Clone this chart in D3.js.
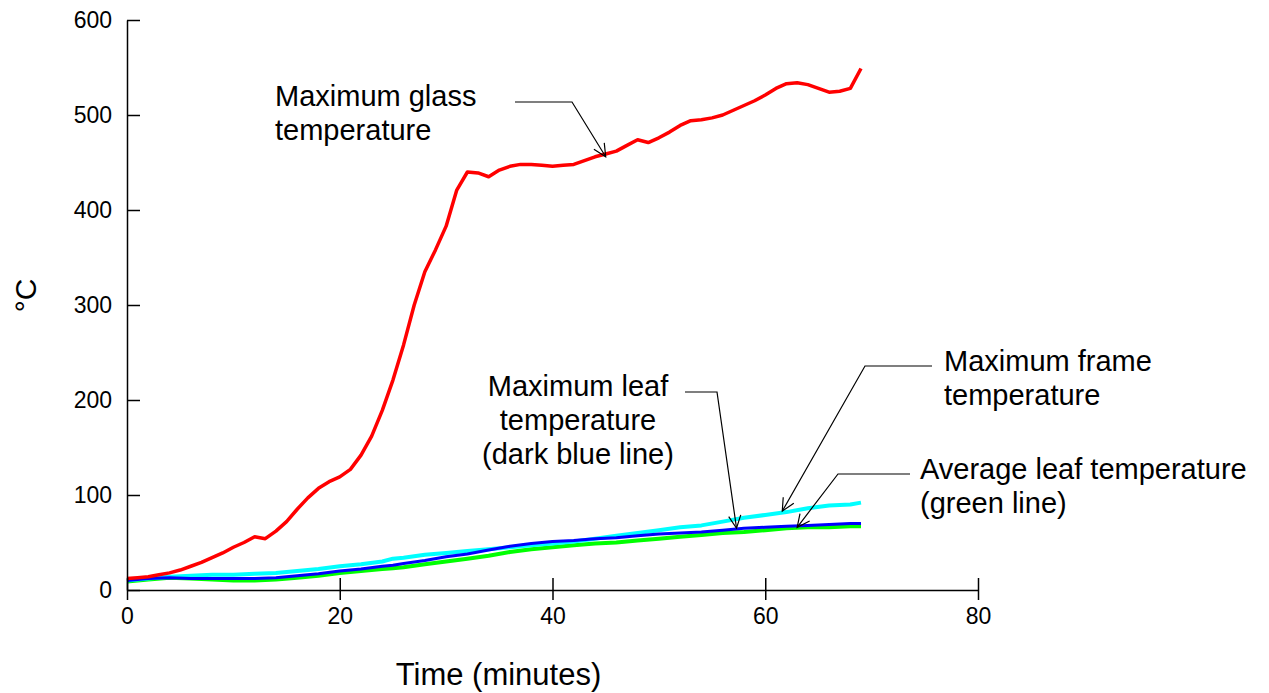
<!DOCTYPE html>
<html>
<head>
<meta charset="utf-8">
<script src="https://cdnjs.cloudflare.com/ajax/libs/d3/7.8.5/d3.min.js"></script>
<style>
  body { margin: 0; background: #fff; }
  text { font-family: "Liberation Sans", Arial, sans-serif; fill: #000; }
</style>
</head>
<body>
<script>
// Minutes at which each series was sampled.
var glassTimes = d3.range(0, 70);
var glassTemps = [12, 13, 14, 16, 18, 21, 25, 29, 34, 39, 45, 50, 56, 54, 62, 72, 85, 97, 107, 114,
  119, 127, 142, 162, 189, 221, 258, 300, 335, 358, 383, 421, 440, 439, 435, 442, 446, 448, 448, 447,
  446, 447, 448, 452, 456, 459, 462, 468, 474, 471, 476, 482, 489, 494, 495, 497, 500, 505, 510, 515,
  521, 528, 533, 534, 532, 528, 524, 525, 528, 549];

var leafTimes = [0, 2, 4, 6, 8, 10, 12, 14, 16, 18, 20, 22, 24, 25, 26, 28, 30, 32, 34, 36, 38, 40,
  42, 44, 46, 48, 50, 52, 54, 56, 58, 60, 62, 64, 66, 68, 69];
var frameTemps = [10, 12, 14, 15, 16, 16, 17, 18, 20, 22, 25, 27, 30, 33, 34, 37, 39, 41, 43, 45, 47, 49,
  51, 54, 57, 60, 63, 66, 68, 72, 76, 79, 82, 86, 89, 90, 92];
var leafMaxTemps = [10, 12, 13, 12, 12, 12, 12, 13, 15, 17, 20, 22, 25, 26, 28, 31, 35, 38, 42, 46, 49, 51,
  52, 54, 55, 57, 59, 60, 61, 63, 65, 66, 67, 68, 69, 70, 70];
var leafAvgTemps = [9, 11, 13, 12, 11, 10, 10, 11, 13, 15, 18, 20, 22, 23, 24, 27, 30, 33, 36, 40, 43, 45,
  47, 49, 50, 52, 54, 56, 58, 60, 61, 63, 65, 66, 66, 67, 67];

var xTicks = [0, 20, 40, 60, 80];
var yTicks = [0, 100, 200, 300, 400, 500, 600];

(function(d3) {

  var width = 1269, height = 693;
  var margin = {left: 127, right: 291, top: 20, bottom: 103};

  var svg = d3.select("body").append("svg")
    .attr("width", width)
    .attr("height", height);

  var x = d3.scaleLinear().domain([0, 80]).range([margin.left, width - margin.right]);
  var y = d3.scaleLinear().domain([0, 600]).range([height - margin.bottom, margin.top]);

  // Series, drawn bottom first so the red one sits on top.
  var series = [
    {times: leafTimes, temps: leafAvgTemps, color: "#00ff00", w: 4},
    {times: leafTimes, temps: frameTemps, color: "#00ffff", w: 4},
    {times: leafTimes, temps: leafMaxTemps, color: "#0000ff", w: 3},
    {times: glassTimes, temps: glassTemps, color: "#ff0000", w: 3.5}
  ];

  var line = d3.line()
    .x(function(d) { return x(d[0]); })
    .y(function(d) { return y(d[1]); });

  series.forEach(function(s) {
    svg.append("path")
      .datum(d3.zip(s.times, s.temps))
      .attr("fill", "none")
      .attr("stroke", s.color)
      .attr("stroke-width", s.w)
      .attr("stroke-linejoin", "round")
      .attr("d", line);
  });

  // Axes: ticks cross the axis line, like the old spreadsheet style.
  var xAxis = svg.append("g")
    .attr("transform", "translate(0," + y(0) + ")")
    .call(d3.axisBottom(x).tickValues(xTicks).tickSize(10).tickPadding(8).tickSizeOuter(0));
  xAxis.selectAll(".tick line").attr("y1", -12);

  var yAxis = svg.append("g")
    .attr("transform", "translate(" + x(0) + ",0)")
    .call(d3.axisLeft(y).tickValues(yTicks).tickSize(14).tickPadding(1).tickSizeOuter(0));
  yAxis.selectAll(".tick line").attr("x2", 13);

  svg.selectAll(".domain, .tick line").attr("stroke", "#000").attr("stroke-width", 1.5);
  svg.selectAll(".tick text")
    .style("font-family", "'Liberation Sans', Arial, sans-serif")
    .style("font-size", "23px")
    .attr("fill", "#000");

  // Axis titles
  svg.append("text")
    .attr("x", x(40) - 54)
    .attr("y", 685)
    .attr("text-anchor", "middle")
    .style("font-size", "31px")
    .text("Time (minutes)");

  svg.append("text")
    .attr("transform", "translate(36," + y(310) + ") rotate(-90)")
    .attr("text-anchor", "middle")
    .style("font-size", "30px")
    .text("°C");

  // Annotations: text block, elbow of the leader, and the point it aims at.
  var notes = [
    {lines: ["Maximum glass", "temperature"], tx: 275, ty: 106, anchor: "start",
      from: [515, 102], elbow: [572, 102], tip: [45, 456]},
    {lines: ["Maximum leaf", "temperature", "(dark blue line)"], tx: 578, ty: 396, anchor: "middle",
      from: [685, 392], elbow: [717, 392], tip: [57.3, 65]},
    {lines: ["Maximum frame", "temperature"], tx: 944, ty: 371, anchor: "start",
      from: [932, 366], elbow: [865, 366], tip: [61.6, 83]},
    {lines: ["Average leaf temperature", "(green line)"], tx: 920, ty: 479, anchor: "start",
      from: [910, 474], elbow: [838, 474], tip: [63, 66]}
  ];

  notes.forEach(function(n) {
    var t = svg.append("text")
      .attr("x", n.tx)
      .attr("y", n.ty)
      .attr("text-anchor", n.anchor)
      .style("font-size", "29px");
    n.lines.forEach(function(s, i) {
      t.append("tspan").attr("x", n.tx).attr("dy", i ? 34 : 0).text(s);
    });

    var tip = [x(n.tip[0]), y(n.tip[1])];
    svg.append("polyline")
      .attr("points", [n.from, n.elbow, tip].join(" "))
      .attr("fill", "none")
      .attr("stroke", "#000")
      .attr("stroke-width", 1.2);

    // open arrow head
    var ang = Math.atan2(tip[1] - n.elbow[1], tip[0] - n.elbow[0]);
    var len = 14, spread = 0.45;
    var wing = function(a) {
      return [tip[0] - len * Math.cos(a), tip[1] - len * Math.sin(a)];
    };
    svg.append("polyline")
      .attr("points", [wing(ang - spread), tip, wing(ang + spread)].join(" "))
      .attr("fill", "none")
      .attr("stroke", "#000")
      .attr("stroke-width", 1.2);
  });

})(d3);
</script>
</body>
</html>
